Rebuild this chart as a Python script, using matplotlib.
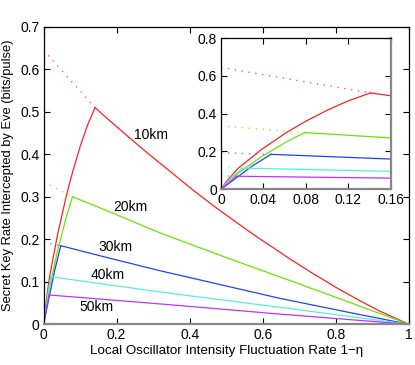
import numpy as np
import matplotlib.pyplot as plt

plt.rcParams['font.family'] = ['Liberation Sans', 'DejaVu Sans']
plt.rcParams['font.size'] = 10

# distances (labels) and colours
labels = ['10km', '20km', '30km', '40km', '50km']
colors = ['#ff2020', '#66e600', '#2040ff', '#55eedd', '#bb33ff']

# rising part (from origin to the peak)
rise_x = [[0, 0.005, 0.016, 0.038, 0.063, 0.08, 0.10, 0.12, 0.141],
          [0, 0.016, 0.038, 0.063, 0.079],
          [0, 0.016, 0.03, 0.047],
          [0, 0.01, 0.02],
          [0, 0.015]]
rise_y = [[0, 0.04, 0.11, 0.21, 0.305, 0.36, 0.418, 0.468, 0.51],
          [0, 0.085, 0.172, 0.255, 0.30],
          [0, 0.067, 0.125, 0.185],
          [0, 0.062, 0.112],
          [0, 0.069]]

# falling part (peak to 1)
fall_x = [[0.141, 0.16, 0.22, 0.28, 0.346, 0.40, 0.46, 0.50, 0.56, 0.592,
           0.674, 0.738, 0.80, 0.86, 0.92, 1.0],
          [0.079, 0.16, 0.319, 0.50, 0.674, 0.83, 1.0],
          [0.047, 0.16, 0.319, 0.647, 0.83, 1.0],
          [0.02, 0.16, 0.346, 0.647, 1.0],
          [0.015, 0.16, 0.346, 0.647, 1.0]]
fall_y = [[0.51, 0.495, 0.450, 0.406, 0.360, 0.322, 0.282, 0.257, 0.220, 0.201,
           0.154, 0.119, 0.087, 0.058, 0.031, 0],
          [0.30, 0.272, 0.215, 0.157, 0.103, 0.054, 0],
          [0.185, 0.16, 0.126, 0.061, 0.029, 0],
          [0.112, 0.095, 0.073, 0.040, 0],
          [0.069, 0.059, 0.046, 0.024, 0]]

# dotted extension (x=0 to the peak)
dot_x = [[0, 0.079, 0.141], [0, 0.079], [0, 0.047], [0, 0.02], [0, 0.015]]
dot_y = [[0.645, 0.569, 0.51], [0.335, 0.30], [0.193, 0.185], [0.117, 0.112], [0.072, 0.069]]

# label positions
lab_x = [0.294, 0.237, 0.198, 0.176, 0.146]
lab_y = [0.445, 0.276, 0.183, 0.115, 0.041]


def draw(ax):
    for i in range(5):
        ax.plot(dot_x[i], dot_y[i], color=colors[i], lw=1, ls=(0, (1, 4)), alpha=0.7)
        ax.plot(rise_x[i], rise_y[i], color=colors[i], lw=0.9)
        ax.plot(fall_x[i], fall_y[i], color=colors[i], lw=0.9)


def style(ax):
    ax.tick_params(direction='in', length=4, top=True, right=True, pad=3)
    for s in ax.spines.values():
        s.set_linewidth(0.9)
    ax.spines['bottom'].set_color('#888888')
    ax.spines['bottom'].set_linewidth(1.6)


fig = plt.figure(figsize=(4.15, 3.65), dpi=100)
ax = fig.add_axes([0.105, 0.1115, 0.8805, 0.8151])
draw(ax)
for i in range(5):
    ax.text(lab_x[i], lab_y[i], labels[i], ha='center', va='center', fontsize=10)
ax.set_xlim(0, 1)
ax.set_ylim(0, 0.7)
ax.set_xticks(np.arange(0, 1.01, 0.2))
ax.set_xticklabels(['0', '0.2', '0.4', '0.6', '0.8', '1'])
ax.set_yticks(np.arange(0, 0.71, 0.1))
ax.set_yticklabels(['0', '0.1', '0.2', '0.3', '0.4', '0.5', '0.6', '0.7'])
ax.set_xlabel('Local Oscillator Intensity Fluctuation Rate 1\u2212\u03b7', labelpad=2, fontsize=9.6)
ax.set_ylabel('Secret Key Rate Intercepted by Eve (bits/pulse)', labelpad=4, fontsize=9.3)
style(ax)

ins = fig.add_axes([0.5325, 0.4814, 0.4089, 0.4142])
draw(ins)
ins.set_xlim(0, 0.16)
ins.set_ylim(0, 0.8)
ins.set_xticks([0, 0.04, 0.08, 0.12, 0.16])
ins.set_xticklabels(['0', '0.04', '0.08', '0.12', '0.16'])
ins.set_yticks([0, 0.2, 0.4, 0.6, 0.8])
ins.set_yticklabels(['0', '0.2', '0.4', '0.6', '0.8'])
style(ins)
ins.spines['right'].set_color('#888888')
ins.spines['right'].set_linewidth(1.6)

fig.savefig('out.png', dpi=100)
